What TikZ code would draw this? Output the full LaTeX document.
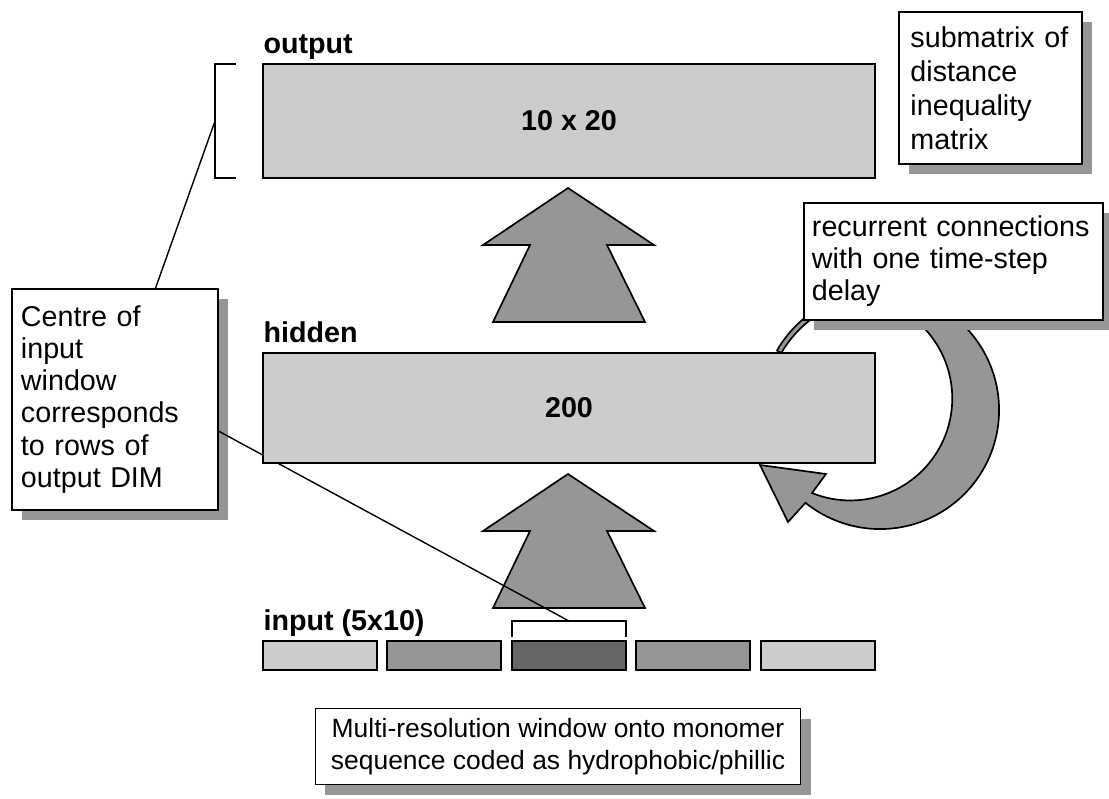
\documentclass[tikz,border=0pt]{standalone}
\usepackage{fontspec}
\setmainfont{Liberation Sans}
\usetikzlibrary{shadows}
\definecolor{boxgray}{HTML}{CCCCCC}
\definecolor{arrowgray}{HTML}{969696}
\definecolor{darkcell}{HTML}{666666}
\begin{document}
\begin{tikzpicture}[x=0.0125cm,y=-0.0125cm,
        every node/.style={font=\fontsize{10.2}{11.4}\selectfont},
        layer/.style={draw=black,rectangle,fill=boxgray,line width=0.8pt,minimum width=7.65cm,font=\fontsize{10.2}{11.4}\selectfont\bfseries},
        cell/.style={draw=black,rectangle,line width=0.6pt,minimum width=1.425cm,minimum height=0.3625cm,inner sep=0pt},
        note/.style={draw=black,rectangle,fill=white,line width=0.6pt,drop shadow={shadow xshift=0.125cm,shadow yshift=-0.125cm,fill=arrowgray,opacity=1}},
        lab/.style={anchor=base west,inner sep=0pt,font=\fontsize{10.2}{11.4}\selectfont\bfseries},
        uparrow/.style={draw=black,fill=arrowgray,line width=0.6pt},
        link/.style={draw=black,line width=0.5pt}
      ]
      \useasboundingbox (0,0) rectangle (1109,798);
      % recurrent loop arrow
      \begin{scope}[shift={(880,410)},y=0.0125cm]
        \filldraw[uparrow] (150:119) arc[start angle=150,end angle=-128.8,radius=1.4875cm]
          -- (-92,-112) -- (-120,-55) -- (-54,-64) -- (-68,-83)
          arc[start angle=-112,end angle=60,radius=1.275cm] -- (126:114)
          arc[start angle=126,end angle=150,radius=1.425cm] -- cycle;
      \end{scope}
      % feed-forward arrows
      \foreach \t in {188,474}
        \draw[uparrow] (568,\t) -- (654,{\t+57}) -- (607,{\t+57}) -- (645,{\t+134})
          -- (493,{\t+134}) -- (530,{\t+57}) -- (483,{\t+57}) -- cycle;
      \node[note,text width=2.35cm,inner xsep=0.1125cm,minimum height=2.7625cm,align=left] (centre) at (115,399.5)
        {Centre of\\input\\window\\corresponds\\to rows of\\output DIM};
      \coordinate (outmid) at (215,121);
      \coordinate (winmid) at (569,621);
      \draw[link] (outmid) -- (centre.70);
      \draw[link] (centre.-17) -- (winmid);
      \node[layer,minimum height=1.425cm] (output) at (569,121) {10 x 20};
      \node[layer,minimum height=1.375cm] (hidden) at (569,408) {200};
      \node[cell,fill=boxgray] (c1) at (320,655.5) {};
      \node[cell,fill=arrowgray] (c2) at (444,655.5) {};
      \node[cell,fill=darkcell] (c3) at (569,655.5) {};
      \node[cell,fill=arrowgray] (c4) at (693,655.5) {};
      \node[cell,fill=boxgray] (c5) at (818,655.5) {};
      % brackets
      \draw[link] (236,64) -- (215,64) -- (215,178) -- (236,178);
      \draw[link] (512,637) -- (512,621) -- (626,621) -- (626,637);
      \node[note,text width=3.5375cm,inner xsep=0.1cm,minimum height=1.4625cm,align=left] (recur) at (953.5,261.5)
        {recurrent connections\\with one time-step\\delay};
      \node[note,text width=2.0cm,inner xsep=0.14cm,minimum height=1.9cm,align=left,font=\fontsize{10.2}{12.1}\selectfont] (submat) at (990.5,88)
        {submatrix of\\distance\\inequality\\matrix};
      \node[note,minimum width=6.0625cm,minimum height=0.9375cm,align=center,font=\fontsize{9.4}{11.6}\selectfont] (window) at (558,746.5)
        {Multi-resolution window onto monomer\\sequence coded as hydrophobic/phillic};
      \node[lab] (outlab) at (263,53) {output};
      \node[lab] (hidlab) at (263,342) {hidden};
      \node[lab] (inlab) at (263,630) {input (5x10)};
    \end{tikzpicture}
\end{document}
